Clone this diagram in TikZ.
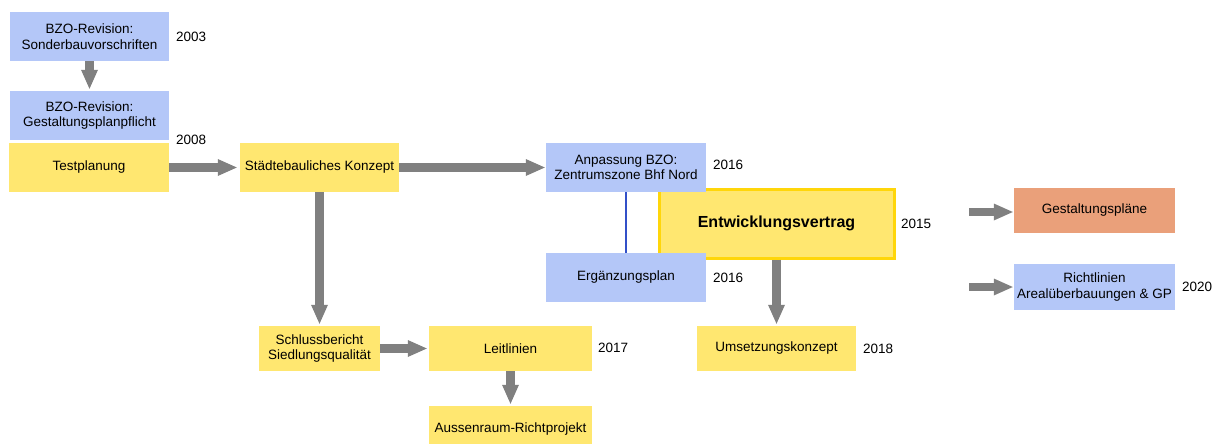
\documentclass[tikz,border=0pt]{standalone}
\usepackage{fontspec}
\setmainfont{Liberation Sans}
\usetikzlibrary{arrows.meta}
\definecolor{boxblue}{RGB}{180,199,248}
\definecolor{boxyellow}{RGB}{255,231,112}
\definecolor{boxgold}{RGB}{255,214,10}
\definecolor{boxorange}{RGB}{234,160,122}
\definecolor{arrowgray}{RGB}{128,128,128}
\definecolor{linkblue}{RGB}{50,80,200}
\begin{document}
\begin{tikzpicture}[x=1pt,y=-1pt,
  every node/.style={font=\fontsize{13.5}{15.6}\selectfont, inner sep=0pt, align=center},
  box/.style={rectangle, minimum width=159pt, minimum height=49pt},
  bluebox/.style={box, fill=boxblue},
  yellowbox/.style={box, fill=boxyellow},
  orangebox/.style={box, fill=boxorange},
  year/.style={anchor=west},
  flow/.style={draw=arrowgray, line width=8.5pt,
    -{Triangle[width=17pt,length=19pt,line width=0pt]}, shorten >=2pt}
]
\useasboundingbox (0,0) rectangle (1220,444);

% main contract box (drawn first, the blue boxes overlap its edges)
\node[yellowbox, draw=boxgold, line width=3pt, minimum width=235pt, minimum height=69pt,
  font=\fontsize{16}{19}\selectfont\bfseries] (vertrag) at (776.5,223.5) {Entwicklungsvertrag};
\node[year] (y2015) at (901,224) {2015};

% left column
\node[bluebox] (sonder) at (89.5,36.5) {BZO-Revision:\\Sonderbauvorschriften};
\node[year] (y2003) at (176,37) {2003};
\node[bluebox] (gpflicht) at (89.5,115.5) {BZO-Revision:\\Gestaltungsplanpflicht};
\node[year] (y2008) at (176,140) {2008};
\node[yellowbox, minimum width=160pt] (test) at (89,167.5) {Testplanung};

% urban concept and follow-ups
\node[yellowbox] (konzept) at (319.5,167.5) {Städtebauliches Konzept};
\node[yellowbox, minimum width=121pt, minimum height=45pt] (schluss) at (319.5,348.5) {Schlussbericht\\Siedlungsqualität};
\node[yellowbox, minimum width=163pt, minimum height=45pt] (leit) at (510.5,348.5) {Leitlinien};
\node[year] (y2017) at (598,348) {2017};
\node[yellowbox, minimum width=163pt, minimum height=46pt] (aussen) at (510.5,429) {Aussenraum-Richtprojekt};

% zoning adjustments
\node[bluebox, minimum width=160pt] (anpass) at (626,167.5) {Anpassung BZO:\\Zentrumszone Bhf Nord};
\node[year] (y2016a) at (713,165) {2016};
\node[bluebox, minimum width=160pt] (ergaenz) at (626,277.5) {Ergänzungsplan};
\node[year] (y2016b) at (713,278) {2016};
\node[yellowbox, minimum height=45pt] (umsetz) at (776.5,348.5) {Umsetzungskonzept};
\node[year] (y2018) at (863,349) {2018};

% right column
\node[orangebox, minimum width=161pt, minimum height=45pt] (gplaene) at (1094.5,210.5) {Gestaltungspläne};
\node[bluebox, minimum width=161pt, minimum height=46pt] (richtl) at (1094.5,287) {Richtlinien\\Arealüberbauungen \& GP};
\node[year] (y2020) at (1182,287) {2020};
\coordinate (ingp) at (969,212);
\coordinate (inrl) at (969,287);

% connectors
\draw[flow] (sonder) -- (gpflicht);
\draw[flow, shorten >=3pt] (test) -- (konzept);
\draw[flow, shorten >=1pt] (konzept) -- (anpass);
\draw[flow] (konzept) -- (schluss);
\draw[flow] (schluss) -- (leit);
\draw[flow] (leit) -- (aussen);
\draw[flow] (vertrag.south) -- (umsetz.north);
\draw[flow, shorten >=1pt] (ingp) -- (gplaene.west |- ingp);
\draw[flow, shorten >=1pt] (inrl) -- (richtl.west |- inrl);
\draw[linkblue, line width=1.3pt] (anpass.south) -- (ergaenz.north);
\end{tikzpicture}
\end{document}
